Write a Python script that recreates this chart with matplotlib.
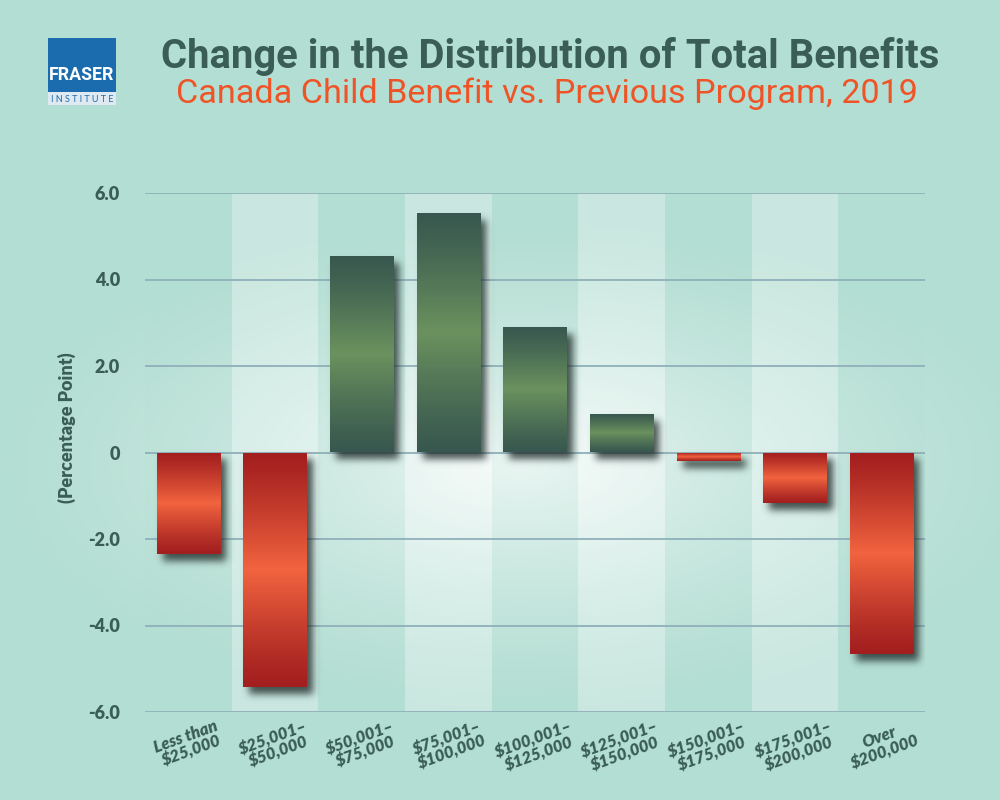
import numpy as np
import matplotlib
matplotlib.use("Agg")
import matplotlib.pyplot as plt
from matplotlib.patches import Rectangle
from matplotlib.colors import to_rgb

# ---------------- data ----------------
categories = ["Less than\n$25,000", "$25,001–\n$50,000", "$50,001–\n$75,000",
              "$75,001–\n$100,000", "$100,001–\n$125,000", "$125,001–\n$150,000",
              "$150,001–\n$175,000", "$175,001–\n$200,000", "Over\n$200,000"]
values = [-2.34, -5.42, 4.54, 5.53, 2.91, 0.89, -0.19, -1.17, -4.67]
yticks = [6, 4, 2, 0, -2, -4, -6]
ytick_labels = ["6.0", "4.0", "2.0", "0", "-2.0", "-4.0", "-6.0"]
title = "Change in the Distribution of Total Benefits"
subtitle = "Canada Child Benefit vs. Previous Program, 2019"
ylabel = "(Percentage Point)"

# ---------------- style ----------------
DARK = "#3a5e55"
ORANGE = "#ef5427"
BG_EDGE = np.array(to_rgb("#b3ded3"))
BG_CENTER = np.array(to_rgb("#f3faf8"))
GRID = "#8fb0ba"
TITLE_FONT = ["Roboto", "DejaVu Sans"]
TEXT_FONT = ["Lato", "Open Sans", "DejaVu Sans"]

W, H = 1000, 800
fig = plt.figure(figsize=(10, 8), dpi=100)

# background radial glow
bg = fig.add_axes([0, 0, 1, 1], zorder=-5)
yy, xx = np.mgrid[0:H, 0:W]
d = np.sqrt(((xx - 520) / 540.0) ** 2 + ((yy - 465) / 255.0) ** 2)
t = np.clip(1 - d, 0, 1) ** 1.4
img = BG_EDGE[None, None, :] + (BG_CENTER - BG_EDGE)[None, None, :] * t[:, :, None]
bg.imshow(img, extent=[0, 1, 0, 1], aspect="auto", origin="upper")
bg.set_axis_off()

# main axes
ax_left, ax_right = 145 / W, 925 / W
ax_top, ax_bot = 1 - 193 / H, 1 - 712 / H
ax = fig.add_axes([ax_left, ax_bot, ax_right - ax_left, ax_top - ax_bot], zorder=1)
ax.patch.set_visible(False)
x = np.arange(len(categories))
ax.set_xlim(-0.5, len(categories) - 0.5)
ax.set_ylim(-6, 6)

# alternating column shading
for i in x:
    if i % 2 == 1:
        ax.axvspan(i - 0.5, i + 0.5, color="white", alpha=0.3, lw=0, zorder=0)
    else:
        ax.axvspan(i - 0.5, i + 0.5, color="#b3ded3", alpha=0.15, lw=0, zorder=0)

# gridlines
for yt in yticks:
    ax.axhline(yt, color=GRID, lw=1.3, zorder=0.5)

# bars
bw = 0.73
bars = ax.bar(x, values, width=bw, color="none", edgecolor="none", zorder=2)

# shadows (blurred, offset) computed in pixel space of the axes
axw_px = int(round((ax_right - ax_left) * W))
axh_px = int(round((ax_top - ax_bot) * H))
mask = np.zeros((axh_px, axw_px))
x0l, x1l = ax.get_xlim()
y0l, y1l = ax.get_ylim()
dx, dy = 6, 7
for p in bars.patches:
    bx0 = (p.get_x() - x0l) / (x1l - x0l) * axw_px
    bx1 = (p.get_x() + p.get_width() - x0l) / (x1l - x0l) * axw_px
    ya, yb = p.get_y(), p.get_y() + p.get_height()
    py0 = (y1l - max(ya, yb)) / (y1l - y0l) * axh_px
    py1 = (y1l - min(ya, yb)) / (y1l - y0l) * axh_px
    c0, c1 = int(round(bx0 + dx)), int(round(bx1 + dx))
    r0, r1 = int(round(py0 + dy)), int(round(py1 + dy))
    mask[max(r0, 0):min(r1, axh_px), max(c0, 0):min(c1, axw_px)] = 1.0
sig = 3.8
k = np.arange(-13, 14)
kern = np.exp(-k ** 2 / (2 * sig ** 2))
kern /= kern.sum()
mask = np.apply_along_axis(lambda m: np.convolve(m, kern, mode="same"), 0, mask)
mask = np.apply_along_axis(lambda m: np.convolve(m, kern, mode="same"), 1, mask)
shadow = np.zeros((axh_px, axw_px, 4))
shadow[..., 0:3] = np.array(to_rgb("#1e2a28"))
shadow[..., 3] = mask * 0.8
ax.imshow(shadow, extent=[x0l, x1l, y0l, y1l], origin="upper", aspect="auto",
          zorder=1.5, interpolation="bilinear")


def vgrad(c_end, c_mid, n=256):
    s = np.linspace(0, 1, n)
    w = 1 - np.abs(s - 0.5) * 2  # 0 at ends, 1 at middle
    w = w ** 1.2
    a, b = np.array(to_rgb(c_end)), np.array(to_rgb(c_mid))
    return (a[None, :] + (b - a)[None, :] * w[:, None])[:, None, :]


green_grad = vgrad("#38584f", "#6b925e")
red_grad = vgrad("#a31f1f", "#f2643f")
for p, v in zip(bars.patches, values):
    ya, yb = p.get_y(), p.get_y() + p.get_height()
    g = green_grad if v >= 0 else red_grad
    im = ax.imshow(g, extent=[p.get_x(), p.get_x() + p.get_width(), min(ya, yb), max(ya, yb)],
                   aspect="auto", origin="upper", zorder=2.1, interpolation="bilinear")
    im.set_clip_path(p)

ax.set_xlim(x0l, x1l)
ax.set_ylim(y0l, y1l)

# ticks
ax.set_yticks(yticks)
ax.set_yticklabels(ytick_labels, fontsize=13, fontweight="heavy", color=DARK, family=TEXT_FONT)
ax.tick_params(axis="y", length=0, pad=18)
ax.set_xticks(x)
ax.set_xticklabels(categories, fontsize=12, fontweight="heavy", style="italic", color=DARK,
                   family=TEXT_FONT, rotation=20, ha="center", va="top", linespacing=0.92)
ax.tick_params(axis="x", length=0, pad=4)
for s in ax.spines.values():
    s.set_visible(False)

# y label
fig.text(67 / W, 1 - 428 / H, ylabel, rotation=90, ha="center", va="center",
         fontsize=13, fontweight="heavy", color=DARK, family=TEXT_FONT)

# titles
fig.text(550 / W, 1 - 57 / H, title, ha="center", va="center", fontsize=28.8,
         fontweight="bold", color=DARK, family=TITLE_FONT)
fig.text(547 / W, 1 - 94 / H, subtitle, ha="center", va="center", fontsize=24.6,
         color=ORANGE, family=TITLE_FONT)

# logo
fig.patches.append(Rectangle((48 / W, 1 - 92 / H), 68 / W, 54 / H, transform=fig.transFigure,
                             facecolor="#1b6cae", edgecolor="none", zorder=3))
fig.patches.append(Rectangle((48 / W, 1 - 105 / H), 68 / W, 13 / H, transform=fig.transFigure,
                             facecolor="#dfe9f1", edgecolor="none", zorder=3))
fig.text(82 / W, 1 - 75 / H, "FRASER", ha="center", va="center", fontsize=12.8,
         fontweight="bold", color="white", family=TITLE_FONT, zorder=4)
fig.text(82 / W, 1 - 99 / H, "I N S T I T U T E", ha="center", va="center", fontsize=6.5,
         color="#1b6cae", family=TEXT_FONT, zorder=4)

fig.savefig("out.png", dpi=100)
